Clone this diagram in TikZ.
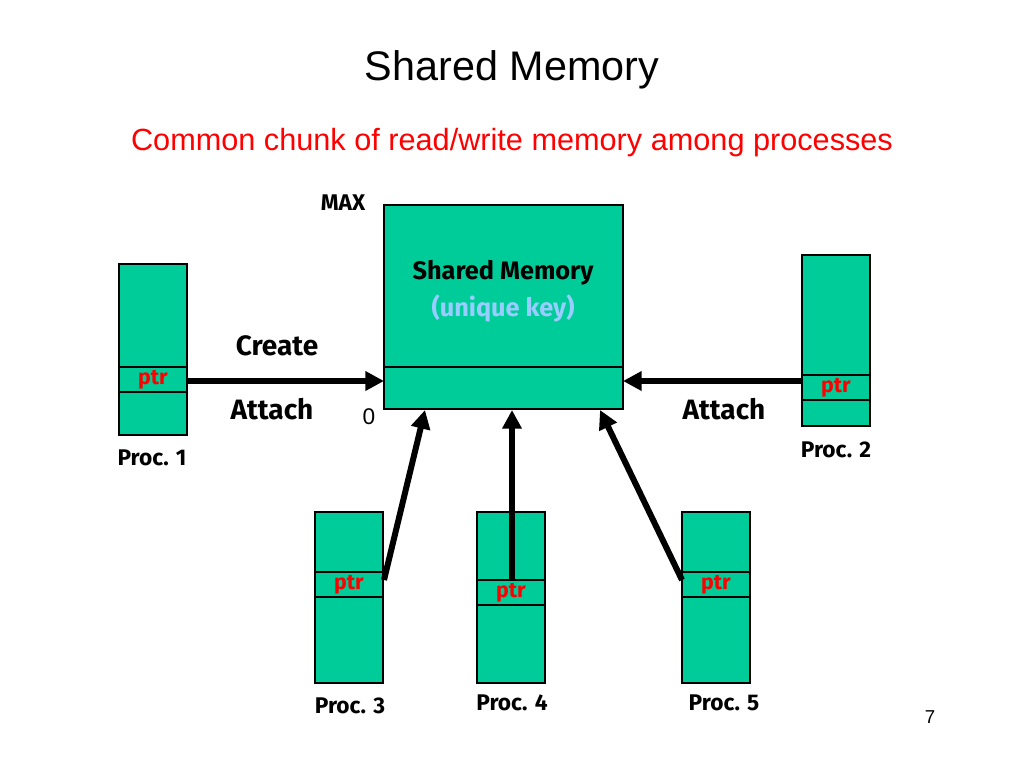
\documentclass[tikz,border=0pt]{standalone}
\usepackage{fontspec}
\setmainfont{Liberation Sans}
\newfontfamily\cf{Fira Sans}
\usetikzlibrary{arrows.meta}
\definecolor{mem}{HTML}{00CC99}
\definecolor{keyc}{HTML}{99CCFF}
\begin{document}
\begin{tikzpicture}[x=0.75pt,y=-0.75pt,
 box/.style={draw=black,line width=2.2pt,fill=mem},
 sep/.style={line width=1.6pt},
 lbl/.style={font=\cf\bfseries\fontsize{21}{24}\selectfont},
 plbl/.style={font=\cf\bfseries\fontsize{17}{20}\selectfont},
 ptr/.style={text=red,font=\cf\bfseries\fontsize{16}{18}\selectfont},
 arr/.style={line width=4.5pt,-{Triangle[length=14pt,width=14pt]}}]
\useasboundingbox (0,0) rectangle (1024,768);
\node (title) at (512,70) {\fontsize{31}{36}\selectfont Shared Memory};
\node[text=red] (sub) at (512,143) {\fontsize{23}{28}\selectfont Common chunk of read/write memory among processes};
% shared memory
\draw[box] (384,205) rectangle (623,409);
\draw[sep] (384,367) -- (623,367);
\coordinate (shl) at (384,381); \coordinate (shr) at (623,381);
\coordinate (sb3) at (425,410); \coordinate (sb4) at (512,410); \coordinate (sb5) at (600,410);
\node[lbl,font=\cf\bfseries\fontsize{19}{22}\selectfont] (sm) at (503,273) {Shared Memory};
\node[lbl,text=keyc,font=\cf\bfseries\fontsize{19}{22}\selectfont] (key) at (503,308) {(unique key)};
\node[plbl] (max) at (343,203) {MAX};
\node[font=\fontsize{17}{20}\selectfont] (zero) at (369,417) {0};
% processes
\foreach \n/\x/\y/\la in {1/119/264/367, 2/802/255/375, 3/315/512/572, 4/477/512/580, 5/682/512/572}{
  \draw[box] (\x,\y) rectangle ++(68,171);
  \draw[sep] (\x,\la) -- ++(68,0);
  \draw[sep] (\x,\la+25) -- ++(68,0);
  \node[ptr] (ptr\n) at (\x+34,\la+13) {ptr};
}
\coordinate (p1) at (187,381); \coordinate (p2) at (802,381);
\coordinate (p3) at (384,580); \coordinate (p4) at (512,580); \coordinate (p5) at (682,580);
\draw[arr] (p1) -- (shl);
\draw[arr] (p2) -- (shr);
\draw[arr] (p3) -- (sb3);
\draw[arr] (p4) -- (sb4);
\draw[arr] (p5) -- (sb5);
\node[lbl] (create) at (277,346) {Create};
\node[lbl] (att1) at (272,409) {Attach};
\node[lbl] (att2) at (724,409) {Attach};
\node[plbl] (pr1) at (152,458) {Proc. 1};
\node[plbl] (pr2) at (836,450) {Proc. 2};
\node[plbl] (pr3) at (350,706) {Proc. 3};
\node[plbl] (pr4) at (512,703) {Proc. 4};
\node[plbl] (pr5) at (724,703) {Proc. 5};
\node[font=\fontsize{14}{16}\selectfont] (pg) at (930,717) {7};
\end{tikzpicture}
\end{document}
